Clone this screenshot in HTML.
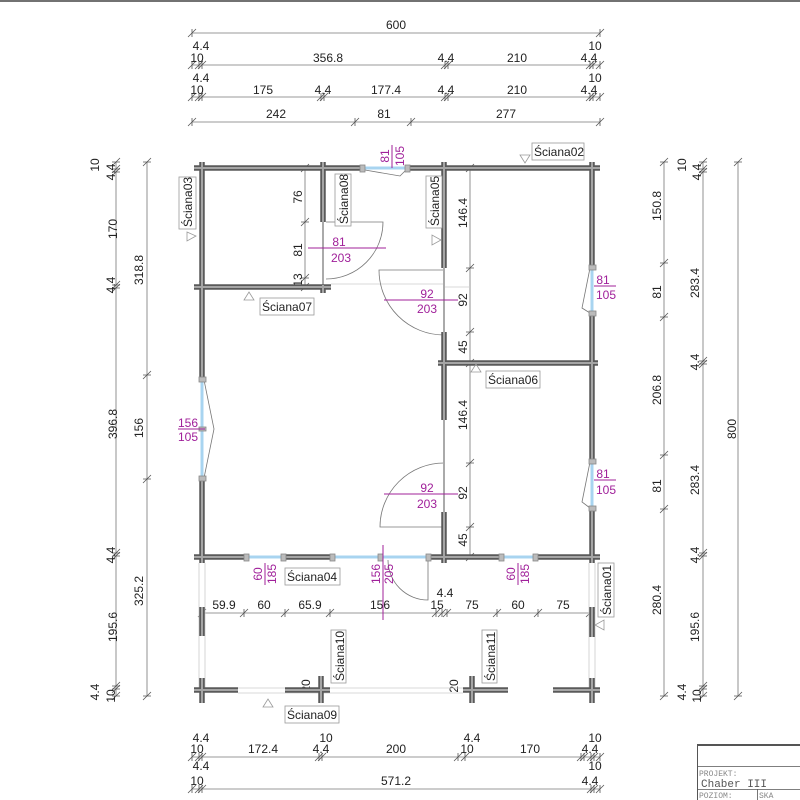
<!DOCTYPE html>
<html><head><meta charset="utf-8"><style>
html,body{margin:0;padding:0;background:#fff}
svg{display:block}
text{font-family:"Liberation Sans",sans-serif;font-size:12px;fill:#222}
.m{fill:#a0209a}
.w{stroke:#5a5a5a;stroke-width:5.5;fill:none}
.wi{stroke:#a5a5a5;stroke-width:2;fill:none}
.g{stroke:#a8d4f0;stroke-width:3}
.d{stroke:#777;stroke-width:0.8;fill:none}
.t{stroke:#555;stroke-width:0.8;fill:none}
.lb{fill:#fff;stroke:#999;stroke-width:0.8}
.tr{fill:none;stroke:#999;stroke-width:0.8}
.mg{stroke:#a0209a;stroke-width:1}
</style></head><body>
<svg width="800" height="800" viewBox="0 0 800 800" xmlns="http://www.w3.org/2000/svg">
<line x1="0" y1="1" x2="800" y2="1" stroke="#444" stroke-width="1.5"/>
<g class="d">
<line x1="192" y1="33" x2="600" y2="33"/><line x1="192" y1="65" x2="600" y2="65"/>
<line x1="192" y1="97" x2="600" y2="97"/><line x1="192" y1="122" x2="600" y2="122"/>
<line x1="192" y1="757" x2="600" y2="757"/><line x1="192" y1="789" x2="600" y2="789"/>
<line x1="116" y1="162" x2="116" y2="696"/><line x1="147" y1="162" x2="147" y2="696"/>
<line x1="664" y1="162" x2="664" y2="696"/><line x1="703" y1="162" x2="703" y2="696"/>
<line x1="738" y1="162" x2="738" y2="696"/>
<line x1="200" y1="613" x2="595" y2="613"/>
<line x1="305" y1="168" x2="305" y2="287"/><line x1="470" y1="168" x2="470" y2="557"/>
</g>
<path class="t" d="
M188,37l8-8m-4,0v8 M596,37l8-8m-4,0v8
M188,69l8-8m-4,0v8 M195,69l8-8m-4,0v8 M198,69l8-8m-4,0v8 M441,69l8-8m-4,0v8 M444,69l8-8m-4,0v8 M586,69l8-8m-4,0v8 M589,69l8-8m-4,0v8 M596,69l8-8m-4,0v8
M188,101l8-8m-4,0v8 M195,101l8-8m-4,0v8 M198,101l8-8m-4,0v8 M317,101l8-8m-4,0v8 M320,101l8-8m-4,0v8 M441,101l8-8m-4,0v8 M444,101l8-8m-4,0v8 M586,101l8-8m-4,0v8 M589,101l8-8m-4,0v8 M596,101l8-8m-4,0v8
M188,126l8-8m-4,0v8 M351,126l8-8m-4,0v8 M407,126l8-8m-4,0v8 M596,126l8-8m-4,0v8
M188,761l8-8m-4,0v8 M195,761l8-8m-4,0v8 M198,761l8-8m-4,0v8 M315,761l8-8m-4,0v8 M318,761l8-8m-4,0v8 M454,761l8-8m-4,0v8 M461,761l8-8m-4,0v8 M577,761l8-8m-4,0v8 M580,761l8-8m-4,0v8 M587,761l8-8m-4,0v8 M590,761l8-8m-4,0v8 M596,761l8-8m-4,0v8
M188,793l8-8m-4,0v8 M195,793l8-8m-4,0v8 M198,793l8-8m-4,0v8 M587,793l8-8m-4,0v8 M590,793l8-8m-4,0v8 M596,793l8-8m-4,0v8
M198,617l8-8m-4,0v8 M240,617l8-8m-4,0v8 M281,617l8-8m-4,0v8 M326,617l8-8m-4,0v8 M432,617l8-8m-4,0v8 M438,617l8-8m-4,0v8 M443,617l8-8m-4,0v8 M493,617l8-8m-4,0v8 M534,617l8-8m-4,0v8 M586,617l8-8m-4,0v8
M112,166l8-8m-8,4h8 M112,173l8-8m-8,4h8 M112,176l8-8m-8,4h8 M112,289l8-8m-8,4h8 M112,292l8-8m-8,4h8 M112,557l8-8m-8,4h8 M112,560l8-8m-8,4h8 M112,690l8-8m-8,4h8 M112,693l8-8m-8,4h8 M112,700l8-8m-8,4h8
M143,166l8-8m-8,4h8 M143,379l8-8m-8,4h8 M143,483l8-8m-8,4h8 M143,700l8-8m-8,4h8
M660,166l8-8m-8,4h8 M660,267l8-8m-8,4h8 M660,321l8-8m-8,4h8 M660,459l8-8m-8,4h8 M660,513l8-8m-8,4h8 M660,700l8-8m-8,4h8
M699,166l8-8m-8,4h8 M699,173l8-8m-8,4h8 M699,176l8-8m-8,4h8 M699,365l8-8m-8,4h8 M699,368l8-8m-8,4h8 M699,557l8-8m-8,4h8 M699,560l8-8m-8,4h8 M699,690l8-8m-8,4h8 M699,693l8-8m-8,4h8 M699,700l8-8m-8,4h8
M734,166l8-8m-8,4h8 M734,700l8-8m-8,4h8
M301,172l8-8m-8,4h8 M301,226l8-8m-8,4h8 M301,282l8-8m-8,4h8 M301,291l8-8m-8,4h8
M466,172l8-8m-8,4h8 M466,272l8-8m-8,4h8 M466,336l8-8m-8,4h8 M466,367l8-8m-8,4h8 M466,467l8-8m-8,4h8 M466,531l8-8m-8,4h8 M466,561l8-8m-8,4h8
"/>
<g text-anchor="middle">
<text x="396" y="29">600</text>
<text x="201" y="50">4.4</text><text x="595" y="50">10</text>
<text x="197" y="62">10</text><text x="328" y="62">356.8</text><text x="446" y="62">4.4</text><text x="517" y="62">210</text><text x="589" y="62">4.4</text>
<text x="201" y="82">4.4</text><text x="595" y="82">10</text>
<text x="197" y="94">10</text><text x="263" y="94">175</text><text x="323" y="94">4.4</text><text x="386" y="94">177.4</text><text x="446" y="94">4.4</text><text x="517" y="94">210</text><text x="589" y="94">4.4</text>
<text x="276" y="118">242</text><text x="384" y="118">81</text><text x="506" y="118">277</text>
<text x="201" y="742">4.4</text><text x="326" y="742">10</text><text x="472" y="742">4.4</text><text x="595" y="742">10</text>
<text x="197" y="753">10</text><text x="263" y="753">172.4</text><text x="321" y="753">4.4</text><text x="396" y="753">200</text><text x="467" y="753">10</text><text x="530" y="753">170</text><text x="590" y="753">4.4</text>
<text x="201" y="770">4.4</text><text x="595" y="770">10</text>
<text x="197" y="785">10</text><text x="396" y="785">571.2</text><text x="590" y="785">4.4</text>
<text x="224" y="609">59.9</text><text x="264" y="609">60</text><text x="310" y="609">65.9</text><text x="380" y="609">156</text><text x="437" y="609">15</text><text x="445" y="597">4.4</text><text x="472" y="609">75</text><text x="518" y="609">60</text><text x="563" y="609">75</text>
</g>
<g text-anchor="middle">
<text transform="translate(99,165) rotate(-90)">10</text>
<text transform="translate(115,172) rotate(-90)">4.4</text>
<text transform="translate(117,229) rotate(-90)">170</text>
<text transform="translate(115,285) rotate(-90)">4.4</text>
<text transform="translate(117,424) rotate(-90)">396.8</text>
<text transform="translate(115,555) rotate(-90)">4.4</text>
<text transform="translate(117,627) rotate(-90)">195.6</text>
<text transform="translate(99,692) rotate(-90)">4.4</text>
<text transform="translate(115,696) rotate(-90)">10</text>
<text transform="translate(143,270) rotate(-90)">318.8</text>
<text transform="translate(143,428) rotate(-90)">156</text>
<text transform="translate(143,591) rotate(-90)">325.2</text>
<text transform="translate(686,165) rotate(-90)">10</text>
<text transform="translate(701,172) rotate(-90)">4.4</text>
<text transform="translate(661,206) rotate(-90)">150.8</text>
<text transform="translate(661,292) rotate(-90)">81</text>
<text transform="translate(661,390) rotate(-90)">206.8</text>
<text transform="translate(661,486) rotate(-90)">81</text>
<text transform="translate(661,600) rotate(-90)">280.4</text>
<text transform="translate(699,283) rotate(-90)">283.4</text>
<text transform="translate(699,362) rotate(-90)">4.4</text>
<text transform="translate(699,480) rotate(-90)">283.4</text>
<text transform="translate(699,555) rotate(-90)">4.4</text>
<text transform="translate(699,627) rotate(-90)">195.6</text>
<text transform="translate(686,692) rotate(-90)">4.4</text>
<text transform="translate(701,696) rotate(-90)">10</text>
<text transform="translate(736,429) rotate(-90)">800</text>
<text transform="translate(302,197) rotate(-90)">76</text>
<text transform="translate(302,250) rotate(-90)">81</text>
<text transform="translate(302,280) rotate(-90)">13</text>
<text transform="translate(467,213) rotate(-90)">146.4</text>
<text transform="translate(467,300) rotate(-90)">92</text>
<text transform="translate(467,347) rotate(-90)">45</text>
<text transform="translate(467,415) rotate(-90)">146.4</text>
<text transform="translate(467,493) rotate(-90)">92</text>
<text transform="translate(467,540) rotate(-90)">45</text>
<text transform="translate(310,686) rotate(-90)">20</text>
<text transform="translate(458,686) rotate(-90)">20</text>
</g>
<g stroke="#ccc" stroke-width="0.8">
<line x1="199" y1="563" x2="199" y2="690"/><line x1="205" y1="563" x2="205" y2="690"/>
<line x1="589" y1="563" x2="589" y2="690"/><line x1="595" y1="563" x2="595" y2="690"/>
<line x1="238" y1="693" x2="463" y2="693"/><line x1="238" y1="688" x2="463" y2="688"/>
<line x1="444" y1="287" x2="470" y2="287"/><line x1="331" y1="284" x2="444" y2="284"/>
</g>
<g class="d" stroke="#999">
<path d="M326,222 L383,222 A57,57 0 0 1 326,279"/>
<path d="M444,270 L379,270 A65,65 0 0 0 444,335"/>
<path d="M444,463 A64,64 0 0 0 380,527 L444,527"/>
<path d="M388,560 A40,40 0 0 0 428,600 L428,560"/>
<path d="M204,380 L214,429 L204,478"/>
<path d="M590,268 L582,308 L590,313"/>
<path d="M590,462 L582,502 L590,508"/>
<path d="M406,170 L400,176 L365,170"/>
</g>
<g stroke="#aaa" stroke-width="2">
<line x1="323" y1="222" x2="323" y2="285"/><line x1="444" y1="268" x2="444" y2="332"/><line x1="444" y1="420" x2="444" y2="512"/>
</g>
<g class="g">
<line x1="365" y1="168" x2="405" y2="168"/><line x1="202" y1="382" x2="202" y2="476"/>
<line x1="592" y1="270" x2="592" y2="311"/><line x1="592" y1="464" x2="592" y2="506"/>
<line x1="249" y1="557" x2="281" y2="557"/><line x1="335" y1="557" x2="426" y2="557"/><line x1="502" y1="557" x2="533" y2="557"/>
</g>
<path class="w" d="M194,168H362M408,168H600M194,287H331M438,363H598M194,557H246M284,557H332M429,557H499M536,557H600M202,162V380M202,478V563M592,162V268M592,313V462M592,508V563M323,162V222M323,285V293M444,162V268M444,332V420M444,512V563M202,607V636M592,607V637M194,690H238M285,690H330M463,690H508M553,690H600M202,678V703M321,676V703M472,676V703M592,678V703"/>
<path class="wi" d="M194,168H362M408,168H600M194,287H331M438,363H598M194,557H246M284,557H332M429,557H499M536,557H600M202,162V380M202,478V563M592,162V268M592,313V462M592,508V563M323,162V222M323,285V293M444,162V268M444,332V420M444,512V563M202,607V636M592,607V637M194,690H238M285,690H330M463,690H508M553,690H600M202,678V703M321,676V703M472,676V703M592,678V703"/>
<g fill="#bbb" stroke="#888" stroke-width="0.8">
<rect x="360" y="165" width="5" height="7"/><rect x="405" y="165" width="5" height="7"/>
<rect x="199" y="377" width="7" height="5"/><rect x="199" y="476" width="7" height="5"/><rect x="199" y="427" width="7" height="4"/>
<rect x="589" y="265" width="7" height="5"/><rect x="589" y="311" width="7" height="5"/>
<rect x="589" y="459" width="7" height="5"/><rect x="589" y="506" width="7" height="5"/>
<rect x="244" y="554" width="5" height="7"/><rect x="281" y="554" width="5" height="7"/>
<rect x="330" y="554" width="5" height="7"/><rect x="378" y="554" width="5" height="7"/><rect x="426" y="554" width="5" height="7"/>
<rect x="499" y="554" width="5" height="7"/><rect x="533" y="554" width="5" height="7"/>
</g>
<g class="mg">
<line x1="392" y1="145" x2="392" y2="168"/>
<line x1="308" y1="248" x2="386" y2="248"/>
<line x1="384" y1="300" x2="458" y2="300"/>
<line x1="384" y1="494" x2="458" y2="494"/>
<line x1="178" y1="429" x2="205" y2="429"/>
<line x1="594" y1="286" x2="616" y2="286"/>
<line x1="594" y1="480" x2="616" y2="480"/>
<line x1="265" y1="563" x2="265" y2="585"/>
<line x1="383" y1="545" x2="383" y2="620"/>
<line x1="518" y1="563" x2="518" y2="585"/>
</g>
<g text-anchor="middle">
<text class="m" transform="translate(389,156) rotate(-90)">81</text>
<text class="m" transform="translate(404,156) rotate(-90)">105</text>
<text class="m" x="339" y="246">81</text><text class="m" x="341" y="262">203</text>
<text class="m" x="427" y="298">92</text><text class="m" x="427" y="313">203</text>
<text class="m" x="427" y="492">92</text><text class="m" x="427" y="508">203</text>
<text class="m" x="188" y="427">156</text><text class="m" x="188" y="441">105</text>
<text class="m" x="603" y="284">81</text><text class="m" x="606" y="299">105</text>
<text class="m" x="603" y="478">81</text><text class="m" x="606" y="494">105</text>
<text class="m" transform="translate(262,574) rotate(-90)">60</text>
<text class="m" transform="translate(276,574) rotate(-90)">185</text>
<text class="m" transform="translate(380,574) rotate(-90)">156</text>
<text class="m" transform="translate(393,574) rotate(-90)">205</text>
<text class="m" transform="translate(515,574) rotate(-90)">60</text>
<text class="m" transform="translate(529,574) rotate(-90)">185</text>
</g>
<g>
<rect class="lb" x="532" y="143" width="52" height="17"/><text x="534" y="156">Ściana02</text>
<path class="tr" d="M520,155 L530,155 L525,163 Z"/>
<rect class="lb" x="260" y="298" width="54" height="17"/><text x="262" y="311">Ściana07</text>
<path class="tr" d="M244,300 L254,300 L249,292 Z"/>
<rect class="lb" x="486" y="371" width="54" height="17"/><text x="488" y="384">Ściana06</text>
<path class="tr" d="M471,372 L481,372 L476,364 Z"/>
<rect class="lb" x="285" y="568" width="55" height="17"/><text x="287" y="581">Ściana04</text>
<rect class="lb" x="285" y="706" width="54" height="17"/><text x="287" y="719">Ściana09</text>
<path class="tr" d="M263,707 L273,707 L268,699 Z"/>
<rect class="lb" x="179" y="177" width="17" height="52"/><text transform="translate(192,227) rotate(-90)">Ściana03</text>
<path class="tr" d="M187,232 L187,241 L196,236 Z"/>
<rect class="lb" x="335" y="174" width="16" height="52"/><text transform="translate(348,224) rotate(-90)">Ściana08</text>
<rect class="lb" x="426" y="176" width="16" height="52"/><text transform="translate(439,226) rotate(-90)">Ściana05</text>
<path class="tr" d="M432,235 L432,245 L441,240 Z"/>
<rect class="lb" x="598" y="563" width="16" height="54"/><text transform="translate(611,615) rotate(-90)">Ściana01</text>
<path class="tr" d="M604,620 L604,630 L595,625 Z"/>
<rect class="lb" x="331" y="630" width="15" height="53"/><text transform="translate(344,681) rotate(-90)">Ściana10</text>
<rect class="lb" x="482" y="630" width="15" height="53"/><text transform="translate(495,681) rotate(-90)">Ściana11</text>
</g>
<g stroke="#555" fill="none">
<rect x="697.5" y="744.5" width="110" height="60" stroke-width="1"/>
<line x1="697" y1="745" x2="800" y2="745" stroke-width="2"/>
<line x1="697" y1="766.5" x2="800" y2="766.5" stroke-width="0.8"/>
<line x1="697" y1="789.5" x2="800" y2="789.5" stroke-width="0.8"/>
<line x1="757.5" y1="789" x2="757.5" y2="800" stroke-width="0.8"/>
</g>
<text x="699" y="776" style="font-family:'Liberation Mono',monospace;font-size:8px;fill:#888">PROJEKT:</text>
<text x="701" y="787" style="font-family:'Liberation Mono',monospace;font-size:11px;fill:#555">Chaber III</text>
<text x="699" y="798" style="font-family:'Liberation Mono',monospace;font-size:8px;fill:#888">POZIOM:</text>
<text x="759" y="798" style="font-family:'Liberation Mono',monospace;font-size:8px;fill:#888">SKA</text>
</svg>
</body></html>
